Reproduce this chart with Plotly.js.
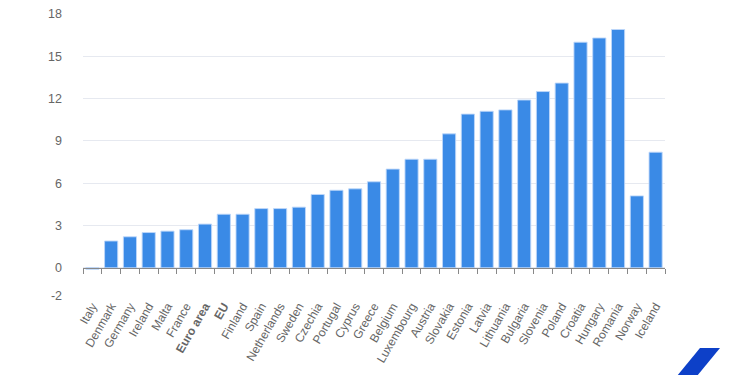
<!DOCTYPE html>
<html><head><meta charset="utf-8">
<script src="https://cdn.plot.ly/plotly-3.0.1.min.js"></script>
<style>html,body{margin:0;padding:0;background:#fff}#chart{width:750px;height:375px}</style>
</head><body><div id="chart"></div>
<script>
const categories = ["Italy","Denmark","Germany","Ireland","Malta","France","Euro area","EU","Finland","Spain","Netherlands","Sweden","Czechia","Portugal","Cyprus","Greece","Belgium","Luxembourg","Austria","Slovakia","Estonia","Latvia","Lithuania","Bulgaria","Slovenia","Poland","Croatia","Hungary","Romania","Norway","Iceland"];
const values = [-0.1,1.9,2.2,2.5,2.6,2.7,3.1,3.8,3.8,4.2,4.2,4.3,5.2,5.5,5.6,6.1,7.0,7.7,7.7,9.5,10.9,11.1,11.2,11.9,12.5,13.1,16.0,16.3,16.9,5.1,8.2];
const boldCategories = ["Euro area","EU"];
const yTicks = [-2,0,3,6,9,12,15,18];

const tickText = categories.map(c => boldCategories.includes(c) ? "<b>"+c+"</b>" : c);
const yMin = -2, yMax = 18;

const traces = [
  {type:"bar", x:categories, y:values, marker:{color:"#3a8ae6", line:{color:"rgba(190,215,250,0.9)", width:1}}, hoverinfo:"x+y", showlegend:false},
  {type:"scatter", x:categories, y:values, xaxis:"x2", mode:"markers", marker:{opacity:0}, hoverinfo:"skip", showlegend:false}
];

const layout = {
  width:750, height:375,
  margin:{l:83, r:85, t:14, b:79},
  paper_bgcolor:"#fff", plot_bgcolor:"#fff",
  font:{family:"Liberation Sans, Arial, sans-serif", color:"#666"},
  bargap:0.3,
  xaxis:{type:"category", categoryorder:"array", categoryarray:categories, tickvals:categories, ticktext:tickText, tickangle:-60, tickfont:{size:12, color:"#666"}, showgrid:false, zeroline:false, showline:false, ticks:"", range:[-0.5, categories.length-0.5], fixedrange:true},
  xaxis2:{type:"category", categoryorder:"array", categoryarray:categories, overlaying:"x", anchor:"free", position:(0-yMin)/(yMax-yMin), range:[-0.5, categories.length-0.5], showticklabels:false, showgrid:false, zeroline:false, showline:true, linecolor:"#888", linewidth:1, ticks:"outside", tickson:"boundaries", ticklen:5, tickcolor:"#888", fixedrange:true},
  yaxis:{range:[yMin,yMax], tickvals:yTicks, ticktext:yTicks.map(String), tickfont:{size:12.5, color:"#666"}, gridcolor:"#e6e9f0", gridwidth:1, zeroline:false, showline:false, ticklabelstandoff:20, fixedrange:true},
  shapes:[{type:"path", xref:"paper", yref:"paper", path:"M 1.0601 -0.1844 L 1.0945 -0.1844 L 1.0550 -0.2837 L 1.0206 -0.2837 Z", fillcolor:"#0d40c8", line:{width:0}}]
};
Plotly.newPlot("chart", traces, layout, {displayModeBar:false, staticPlot:true});
</script></body></html>
